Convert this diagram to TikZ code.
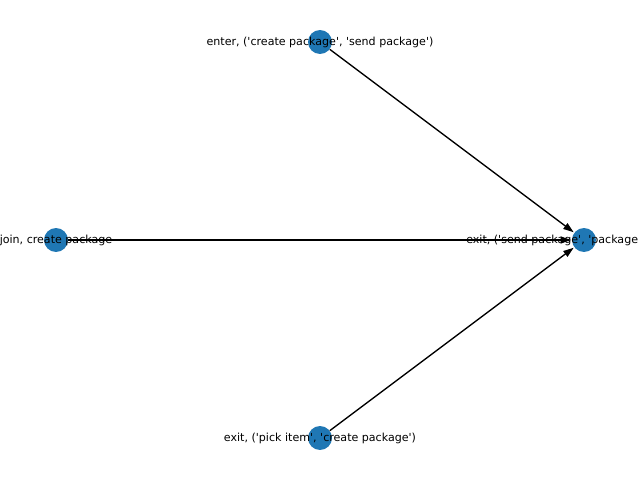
\documentclass[tikz,border=0pt]{standalone}
\usepackage{fontspec}
\newfontfamily\lblfont{DejaVu Sans}
\usetikzlibrary{arrows.meta}
\definecolor{nodeblue}{HTML}{1F77B4}
\begin{document}
\begin{tikzpicture}[x=0.01in,y=-0.01in,
  vertex/.style={circle,fill=nodeblue,draw=none,minimum size=24pt*0.72,inner sep=0pt},
  lbl/.style={font=\lblfont\fontsize{8pt}{9pt}\selectfont,inner sep=0pt,text=black},
  edge/.style={draw=black,line width=1pt,-{Triangle[length=7.5pt,width=5pt]},shorten >=0.5pt}]
\useasboundingbox (0,0) rectangle (640,480);
\clip (0,0) rectangle (640,480);
\fill[white] (0,0) rectangle (640,480);
\node[vertex] (enter) at (320,42) {};
\node[vertex] (join) at (56,240) {};
\node[vertex] (exitR) at (584,240) {};
\node[vertex] (exitB) at (320,438) {};
\draw[edge] (enter) -- (exitR);
\draw[edge] (join) -- (exitR);
\draw[edge] (exitB) -- (exitR);
\node[lbl] (tEnter) at (320,42) {enter, ('create package', 'send package')};
\node[lbl] (tJoin) at (56,240) {join, create package};
\node[lbl,anchor=west] (tExitR) at (466,240) {exit, ('send package', 'package};
\node[lbl] (tExitB) at (320,438) {exit, ('pick item', 'create package')};
\end{tikzpicture}
\end{document}
